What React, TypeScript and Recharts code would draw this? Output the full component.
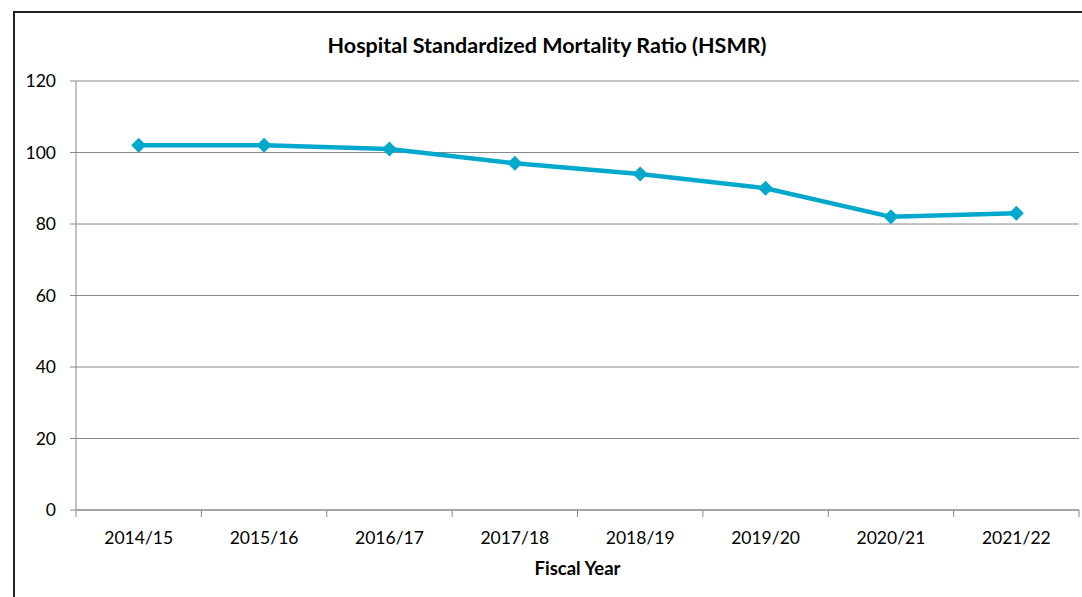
import React from 'react';
import { LineChart, Line, XAxis, YAxis, CartesianGrid } from 'recharts';

const years = ['2014/15', '2015/16', '2016/17', '2017/18', '2018/19', '2019/20', '2020/21', '2021/22'];
const hsmr = [102, 102, 101, 97, 94, 90, 82, 83];
const yTicks = [0, 20, 40, 60, 80, 100, 120];
const title = 'Hospital Standardized Mortality Ratio (HSMR)';
const xTitle = 'Fiscal Year';

const data = years.map((y, i) => ({ year: y, hsmr: hsmr[i] }));

const W = 1082;
const H = 597;
const PLOT_L = 76;
const PLOT_R = 1079;
const PLOT_T = 81;
const PLOT_B = 510;
const X_AXIS_H = 30;
const BAND = (PLOT_R - PLOT_L) / years.length;
const FONT = 'Lato, "Open Sans", sans-serif';
const GRID = '#888888';
const LINE = '#00a8cc';

const XTick = (props: any) => {
  const { x, payload, index } = props;
  return (
    <g>
      <line x1={x - BAND / 2} x2={x - BAND / 2} y1={PLOT_B} y2={PLOT_B + 7} stroke={GRID} strokeWidth={1} />
      {index === years.length - 1 && (
        <line x1={x + BAND / 2} x2={x + BAND / 2} y1={PLOT_B} y2={PLOT_B + 7} stroke={GRID} strokeWidth={1} />
      )}
      <text x={x} y={PLOT_B + 27} textAnchor="middle" dominantBaseline="central" fill="#000" fontSize={17.5} fontFamily={FONT}>
        {payload.value}
      </text>
    </g>
  );
};

const Diamond = (props: any) => {
  const { cx, cy } = props;
  if (cx == null || cy == null) return null;
  const r = 7.5;
  return <polygon points={`${cx},${cy - r} ${cx + r},${cy} ${cx},${cy + r} ${cx - r},${cy}`} fill={LINE} />;
};

export default function App() {
  return (
    <div style={{ position: 'fixed', left: 0, top: 0, width: W, height: H, overflow: 'hidden', background: '#fff' }}>
      <div style={{ position: 'absolute', left: 13, top: 11, width: 1100, height: 620, border: '2px solid #222', boxSizing: 'border-box' }} />
      <div style={{ position: 'absolute', left: 0, top: 0 }}>
        <LineChart
          width={W}
          height={H}
          data={data}
          margin={{ top: PLOT_T, right: W - PLOT_R, bottom: H - PLOT_B - X_AXIS_H, left: 0 }}
        >
          <CartesianGrid vertical={false} stroke={GRID} strokeWidth={1} />
          <XAxis
            dataKey="year"
            height={X_AXIS_H}
            padding={{ left: BAND / 2, right: BAND / 2 }}
            axisLine={{ stroke: GRID, strokeWidth: 1 }}
            tickLine={false}
            tick={<XTick />}
            interval={0}
          />
          <YAxis
            width={PLOT_L}
            domain={[0, 120]}
            ticks={yTicks}
            interval={0}
            axisLine={{ stroke: GRID, strokeWidth: 1 }}
            tickLine={{ stroke: GRID, strokeWidth: 1 }}
            tickSize={6}
            tickMargin={14}
            tick={{ fill: '#000', fontSize: 17.5, fontFamily: FONT }}
          />
          <Line
            type="linear"
            dataKey="hsmr"
            stroke={LINE}
            strokeWidth={4.5}
            dot={<Diamond />}
            activeDot={false}
            isAnimationActive={false}
          />
        </LineChart>
      </div>
      <div style={{ position: 'absolute', left: 0, width: 1094, top: 30, textAlign: 'center', fontFamily: FONT, fontWeight: 700, fontSize: 21.5, color: '#000', lineHeight: '30px' }}>
        {title}
      </div>
      <div style={{ position: 'absolute', left: PLOT_L, width: PLOT_R - PLOT_L, top: 555, textAlign: 'center', fontFamily: FONT, fontWeight: 700, fontSize: 18.5, color: '#000', lineHeight: '26px' }}>
        {xTitle}
      </div>
    </div>
  );
}
